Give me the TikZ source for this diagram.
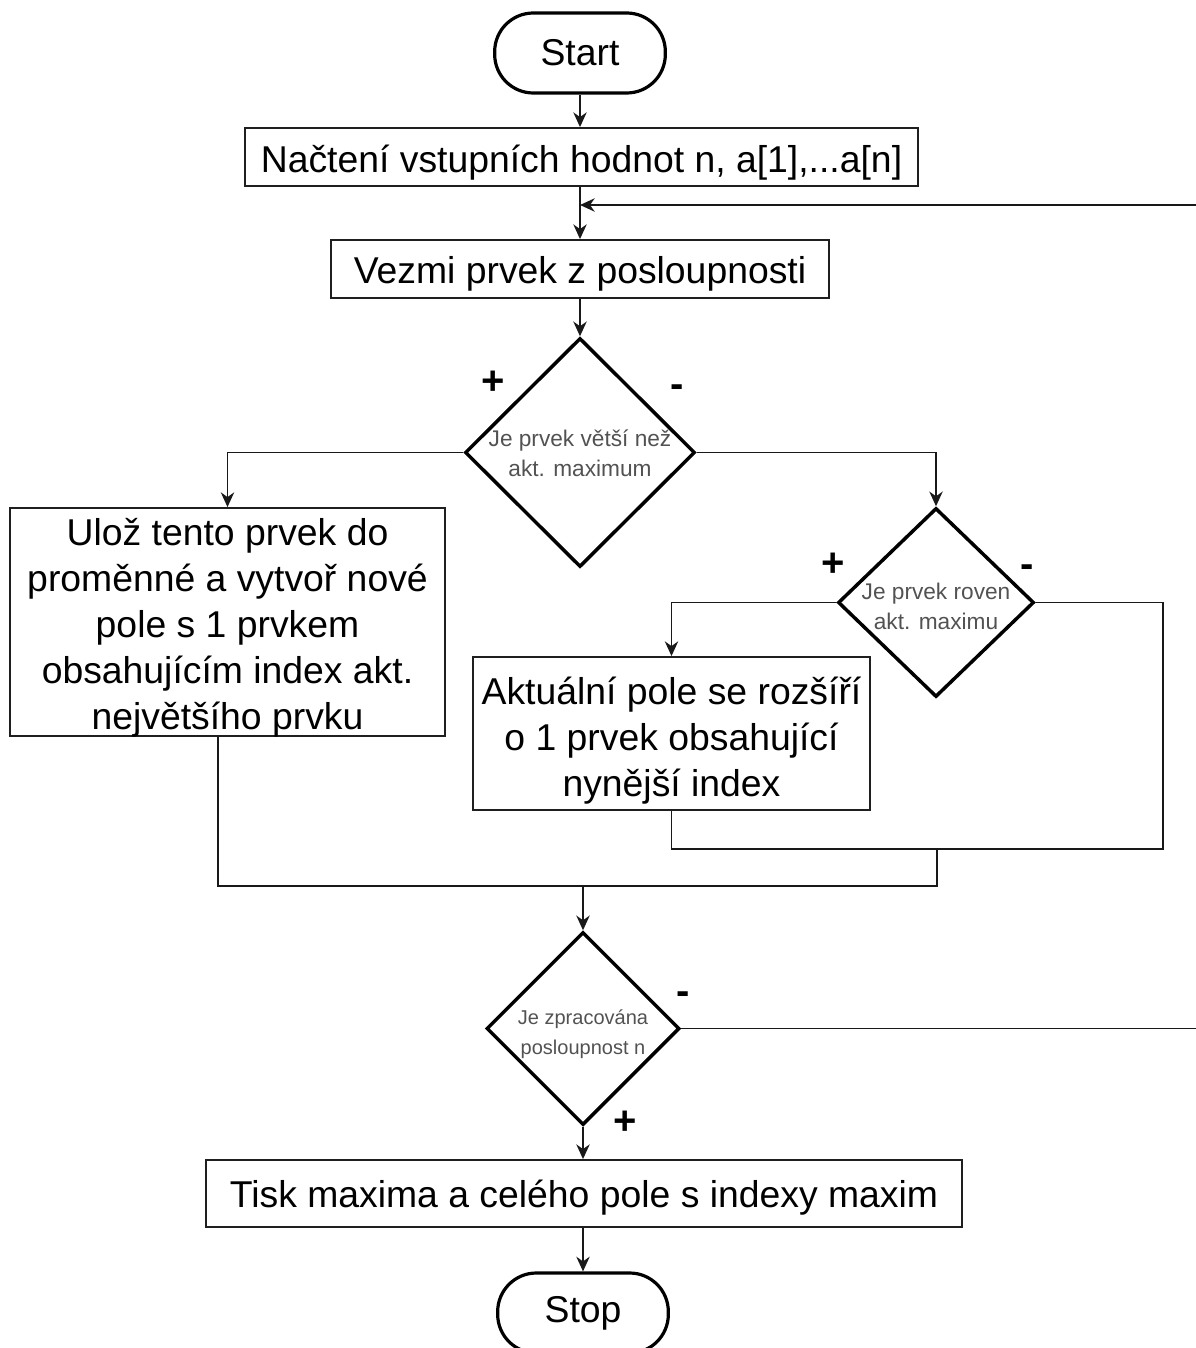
\documentclass[tikz,border=0pt]{standalone}
\usepackage{fontspec}
\setmainfont{Liberation Sans}
\usetikzlibrary{shapes.geometric,arrows.meta}

\tikzset{
  terminal/.style={draw=black, line width=2.4pt, rounded corners=29pt,
    minimum width=128pt, minimum height=60pt, inner sep=0pt,
    font=\fontsize{28}{34}\selectfont},
  procbox/.style={draw=black!88, line width=1.4pt, inner sep=0pt},
  btext/.style={align=center, inner sep=0pt,
    font=\fontsize{28}{34.5}\selectfont},
  decision/.style={draw=black, line width=2.6pt, diamond, inner sep=0pt},
  dtext/.style={align=center, text=black!68, inner sep=0pt,
    font=\fontsize{17}{22.5}\selectfont},
  sign/.style={inner sep=0pt, font=\bfseries\fontsize{30}{30}\selectfont},
  line/.style={draw=black!90, line width=1.4pt},
  arrow/.style={line, -{Stealth[length=11pt, width=10pt, inset=3.5pt]}},
}

\begin{document}
\begin{tikzpicture}[x=0.75pt, y=-0.75pt]
  \useasboundingbox (0,0) rectangle (1195,1348);

  % terminals and process boxes
  \node[terminal] (start) at (580,53) {Start};
  \node[procbox, minimum width=504.75pt, minimum height=43.5pt] (load) at (581.5,157) {};
  \node[btext, yshift=-4pt] (loadt) at (load.center)
    {Načtení vstupních hodnot n, a[1],...a[n]};
  \node[procbox, minimum width=373.5pt, minimum height=43.5pt] (take) at (580,269) {};
  \node[btext, yshift=-4pt] (taket) at (take.center) {Vezmi prvek z posloupnosti};

  % first decision: greater than the current maximum
  \node[decision, minimum width=172.5pt, minimum height=171.75pt] (dgt) at (580,452.5) {};
  \node[dtext] (dgtt) at (580,453) {Je prvek větší než\\akt. maximum};
  \node[sign] (dgtp) at (493,383) {+};
  \node[sign] (dgtm) at (677,391) {-};

  \node[procbox, minimum width=326.25pt, minimum height=171pt] (store) at (227.5,622) {};
  \node[btext, yshift=-4pt] (storet) at (store.center)
    {Ulož tento prvek do\\proměnné a vytvoř nové\\pole s 1 prvkem\\obsahujícím index akt.\\největšího prvku};

  % second decision: equal to the current maximum
  \node[decision, minimum width=147pt, minimum height=141.75pt] (deq) at (936,602.5) {};
  \node[dtext] (deqt) at (936,606) {Je prvek roven\\akt. maximu};
  \node[sign] (deqp) at (833,565) {+};
  \node[sign] (deqm) at (1027,571) {-};

  \node[procbox, minimum width=297.75pt, minimum height=114.75pt] (extend) at (671.5,733.5) {};
  \node[btext, yshift=-5pt] (extendt) at (extend.center)
    {Aktuální pole se rozšíří\\o 1 prvek obsahující\\nynější index};

  % third decision: whole sequence processed
  \node[decision, minimum width=144.75pt, minimum height=144.75pt] (ddone) at (583,1028.5) {};
  \node[dtext, font=\fontsize{15}{22.5}\selectfont] (ddonet) at (583,1034)
    {Je zpracována\\posloupnost n};
  \node[sign] (ddonem) at (683,998) {-};
  \node[sign] (ddonep) at (625,1123) {+};

  \node[procbox, minimum width=567pt, minimum height=50.25pt] (print) at (584,1193.5) {};
  \node[btext, yshift=-3pt] (printt) at (print.center)
    {Tisk maxima a celého pole s indexy maxim};
  \node[terminal] (stop) at (583,1313) {Stop};

  % junction points
  \coordinate (loopin) at (580,205);
  \coordinate (farR) at (1210,1028.5);
  \coordinate (rjoin) at (1163,849);
  \coordinate (mjoin) at (937,849);
  \coordinate (ljoin) at (218,886);
  \coordinate (cjoin) at (583,886);

  % main flow (vertical runs kept straight)
  \draw[arrow] (start.south) -- (start.south |- load.north);
  \draw[arrow] (take.north |- load.south) -- (take.north);
  \draw[arrow] (take.south) -- (dgt.north);
  \draw[arrow] (dgt.west) -| (store.north);
  \draw[arrow] (dgt.east) -| (deq.north);
  \draw[arrow] (deq.west) -| (extend.north);

  % merging branches
  \draw[line] (extend.south) |- (rjoin) |- (deq.east);
  \draw[line] (mjoin) |- (ljoin) -- (ljoin |- store.south);
  \draw[arrow] (cjoin) -- (ddone.north);

  % loop back for the next element
  \draw[arrow] (ddone.east) -- (farR) |- (loopin);

  \draw[arrow] (ddone.south) -- (ddone.south |- print.north);
  \draw[arrow] (stop.north |- print.south) -- (stop.north);
\end{tikzpicture}
\end{document}
